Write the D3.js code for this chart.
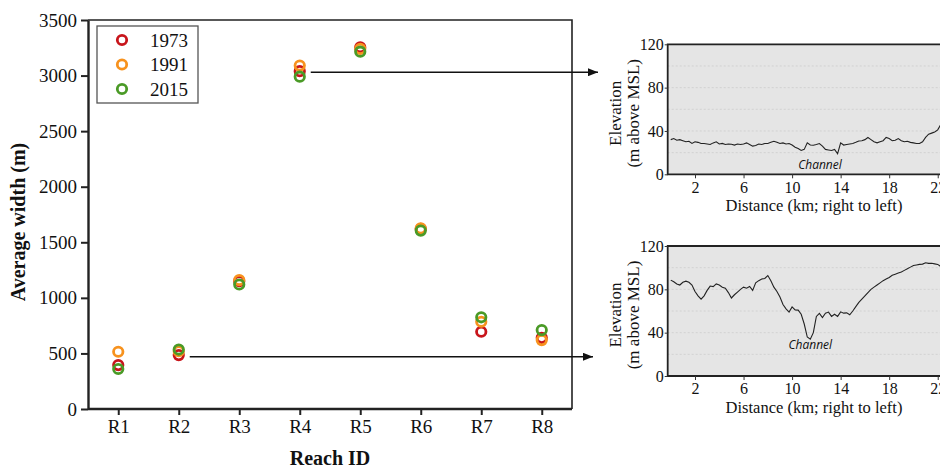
<!DOCTYPE html>
<html>
<head>
<meta charset="utf-8">
<script src="https://cdn.jsdelivr.net/npm/d3@7"></script>
<style>
  body { margin: 0; background: #fff; }
  svg { display: block; }
  text { font-family: "Liberation Serif", "Times New Roman", serif; fill: #111; }
</style>
</head>
<body>
<svg id="chart" width="940" height="469"></svg>
<script>
// main chart data
const reaches = ["R1", "R2", "R3", "R4", "R5", "R6", "R7", "R8"];
const years = ["1973", "1991", "2015"];
const width1973 = [395, 485, 1150, 3040, 3255, 1620, 695, 640];
const width1991 = [515, 520, 1160, 3090, 3240, 1625, 785, 620];
const width2015 = [360, 535, 1120, 2990, 3215, 1605, 825, 710];
const yTicks = [0, 500, 1000, 1500, 2000, 2500, 3000, 3500];
const yearColors = ["#c8151b", "#f7921e", "#4a9a26"];

// elevation profiles (km, m above MSL)
const profileKm = [0, 0.25, 0.5, 0.75, 1, 1.25, 1.5, 1.75, 2, 2.25, 2.5, 2.75, 3, 3.25, 3.5, 3.75,
  4, 4.25, 4.5, 4.75, 5, 5.25, 5.5, 5.75, 6, 6.25, 6.5, 6.75, 7, 7.25, 7.5, 7.75,
  8, 8.25, 8.5, 8.75, 9, 9.25, 9.5, 9.75, 10, 10.25, 10.5, 10.75, 11, 11.25, 11.5, 11.75,
  12, 12.25, 12.5, 12.75, 13, 13.25, 13.5, 13.75, 14, 14.25, 14.5, 14.75, 15, 15.25, 15.5, 15.75,
  16, 16.25, 16.5, 16.75, 17, 17.25, 17.5, 17.75, 18, 18.25, 18.5, 18.75, 19, 19.25, 19.5, 19.75,
  20, 20.25, 20.5, 20.75, 21, 21.25, 21.5, 21.75, 22, 22.25, 22.5, 22.75, 23];
const elevR4 = [32, 33, 31.5, 32, 31, 30, 30.5, 28.5, 30, 29.5, 28.5, 28.4, 28, 27.5, 29, 30,
  28, 28.5, 27.5, 28, 27.8, 27, 28, 27.5, 28, 29, 27.5, 26, 26.5, 28, 27.5, 28.4,
  28.5, 29.5, 30.5, 29.5, 28.4, 29, 28, 28.4, 27, 25, 23.8, 22, 23, 29, 27, 26.8,
  27.5, 28.4, 26, 23, 22.5, 22, 23, 19, 29, 27, 27.5, 28, 28.5, 29.5, 30.8, 31,
  32, 34, 32, 30, 29, 30, 31, 34, 33, 31, 31.5, 33, 31, 30, 30.5, 29.5,
  29, 28.5, 28.4, 30, 34, 37, 38, 39, 41, 46, 44, 45, 46];
const elevR2 = [88.5, 87, 85, 84, 86.5, 87.5, 86.5, 84, 78, 74, 71, 74, 79, 83, 82.5, 85,
  84, 82, 81, 77, 72, 75, 77.5, 80, 82, 81, 82.6, 79, 86, 88, 89.6, 90,
  92.7, 88, 82, 78, 72.9, 66, 62, 59, 63.8, 61, 60.8, 57, 48, 36, 34, 40,
  55, 57.8, 54, 58, 59, 55, 57, 55, 59.2, 58, 58.3, 56.5, 60, 64, 68, 71,
  74, 77, 80, 82, 84, 86, 88, 89.5, 91, 93, 94, 95, 96, 97.5, 99, 100.5,
  102, 102.5, 103, 103.3, 104.5, 104, 104, 103.5, 103, 101, 103, 104, 103];
const elevTicks = [0, 40, 80, 120];
const distTicks = [2, 6, 10, 14, 18, 22];

const svg = d3.select("#chart");

// ---- main scatter ----
const x = d3.scalePoint().domain(reaches).range([88, 572]).padding(0.5);
const y = d3.scaleLinear().domain([0, 3500]).range([409, 20]);

svg.append("path")
  .attr("d", `M88,20H572V409`)
  .attr("fill", "none").attr("stroke", "#222").attr("stroke-width", 1.6);

const yAxis = svg.append("g").attr("transform", "translate(88,0)")
  .call(d3.axisLeft(y).tickValues(yTicks).tickFormat(d3.format("d"))
    .tickSize(7).tickPadding(4).tickSizeOuter(0));
const xAxis = svg.append("g").attr("transform", "translate(0,409)")
  .call(d3.axisBottom(x).tickSize(6).tickPadding(5).tickSizeOuter(0));
[yAxis, xAxis].forEach(a => {
  a.select(".domain").attr("stroke", "#222").attr("stroke-width", 2.4);
  a.selectAll(".tick line").attr("stroke", "#222").attr("stroke-width", 2);
  a.selectAll("text").attr("font-size", 19).attr("fill", "#111")
    .style("font-family", "Liberation Serif");
});
xAxis.select(".domain").attr("d", "M88,0H572");

svg.append("text")
  .attr("transform", "translate(25,222) rotate(-90)")
  .attr("text-anchor", "middle").attr("font-size", 20).attr("font-weight", "bold")
  .text("Average width (m)");
svg.append("text")
  .attr("x", 330).attr("y", 465)
  .attr("text-anchor", "middle").attr("font-size", 20).attr("font-weight", "bold")
  .text("Reach ID");

const series = [width1973, width1991, width2015];
series.forEach((vals, i) => {
  svg.append("g").selectAll("circle")
    .data(vals)
    .join("circle")
    .attr("cx", (d, j) => x(reaches[j]))
    .attr("cy", d => y(d))
    .attr("r", 4.7)
    .attr("fill", "none")
    .attr("stroke", yearColors[i])
    .attr("stroke-width", 2.8);
});

// legend
const legend = svg.append("g").attr("transform", "translate(97,26)");
legend.append("rect").attr("width", 101).attr("height", 77)
  .attr("fill", "#fff").attr("stroke", "#555").attr("stroke-width", 1.3);
years.forEach((yr, i) => {
  legend.append("circle").attr("cx", 25).attr("cy", 14 + i * 24.5).attr("r", 4.7)
    .attr("fill", "none").attr("stroke", yearColors[i]).attr("stroke-width", 2.8);
  legend.append("text").attr("x", 53).attr("y", 14 + i * 24.5).attr("dy", "0.35em")
    .attr("font-size", 19).text(yr);
});

// ---- elevation profile insets ----
function drawProfile(top, elev, channel) {
  const px = d3.scaleLinear().domain([-0.25, 24]).range([667.7, 962]);
  const py = d3.scaleLinear().domain([0, 120]).range([top + 130, top]);
  const g = svg.append("g");
  g.append("rect").attr("x", px(-0.25)).attr("y", py(120))
    .attr("width", px(24) - px(-0.25)).attr("height", py(0) - py(120))
    .attr("fill", "#e5e5e5");
  g.selectAll(".grid").data([20, 40, 60, 80, 100]).join("line")
    .attr("x1", px(-0.25)).attr("x2", px(24))
    .attr("y1", d => py(d)).attr("y2", d => py(d))
    .attr("stroke", "#cdcdcd").attr("stroke-width", 0.8).attr("stroke-dasharray", "2,2");
  g.append("path")
    .attr("d", `M${px(24)},${py(120)}H${px(-0.25)}V${py(0)}H${px(24)}`)
    .attr("fill", "none").attr("stroke", "#222").attr("stroke-width", 1.8);

  const ay = g.append("g").attr("transform", `translate(${px(-0.25)},0)`)
    .call(d3.axisLeft(py).tickValues(elevTicks).tickSize(3).tickPadding(1).tickSizeOuter(0));
  const ax = g.append("g").attr("transform", `translate(0,${py(0)})`)
    .call(d3.axisBottom(px).tickValues(distTicks).tickSize(4).tickPadding(3).tickSizeOuter(0));
  [ay, ax].forEach(a => {
    a.select(".domain").remove();
    a.selectAll(".tick line").attr("stroke", "#333").attr("stroke-width", 1);
    a.selectAll("text").attr("font-size", 16).attr("fill", "#111")
      .style("font-family", "Liberation Serif");
  });

  const line = d3.line().x((d, i) => px(profileKm[i])).y(d => py(d));
  g.append("path").datum(elev).attr("d", line)
    .attr("fill", "none").attr("stroke", "#222").attr("stroke-width", 1.1);

  g.append("text").attr("x", px(channel[0])).attr("y", py(channel[1]))
    .attr("text-anchor", "middle").attr("font-size", 12).attr("font-style", "italic")
    .style("font-family", "'Open Sans', 'Noto Sans', sans-serif").text("Channel");

  g.append("text").attr("x", 814).attr("y", py(0) + 37)
    .attr("text-anchor", "middle").attr("font-size", 16.5)
    .text("Distance (km; right to left)");
  const cy = (py(0) + py(120)) / 2 + 4;
  g.append("text").attr("transform", `translate(621,${cy}) rotate(-90)`)
    .attr("text-anchor", "middle").attr("font-size", 17).text("Elevation");
  g.append("text").attr("transform", `translate(639,${cy}) rotate(-90)`)
    .attr("text-anchor", "middle").attr("font-size", 17).text("(m above MSL)");
  return py;
}

drawProfile(44.3, elevR4, [12.3, 4.5]);
drawProfile(246, elevR2, [11.5, 25]);

// arrows from reaches to their profiles
svg.append("defs").append("marker")
  .attr("id", "head").attr("viewBox", "0 0 10 8")
  .attr("refX", 10).attr("refY", 4)
  .attr("markerWidth", 10).attr("markerHeight", 8)
  .attr("markerUnits", "userSpaceOnUse").attr("orient", "auto")
  .append("path").attr("d", "M0,0L10,4L0,8Z").attr("fill", "#111");

const arrows = [
  { reach: "R4", at: 3030, end: 598 },
  { reach: "R2", at: 470, end: 593 }
];
svg.append("g").selectAll("line").data(arrows).join("line")
  .attr("x1", d => x(d.reach) + 11).attr("x2", d => d.end)
  .attr("y1", d => y(d.at)).attr("y2", d => y(d.at))
  .attr("stroke", "#111").attr("stroke-width", 1.6)
  .attr("marker-end", "url(#head)");
</script>
</body>
</html>
